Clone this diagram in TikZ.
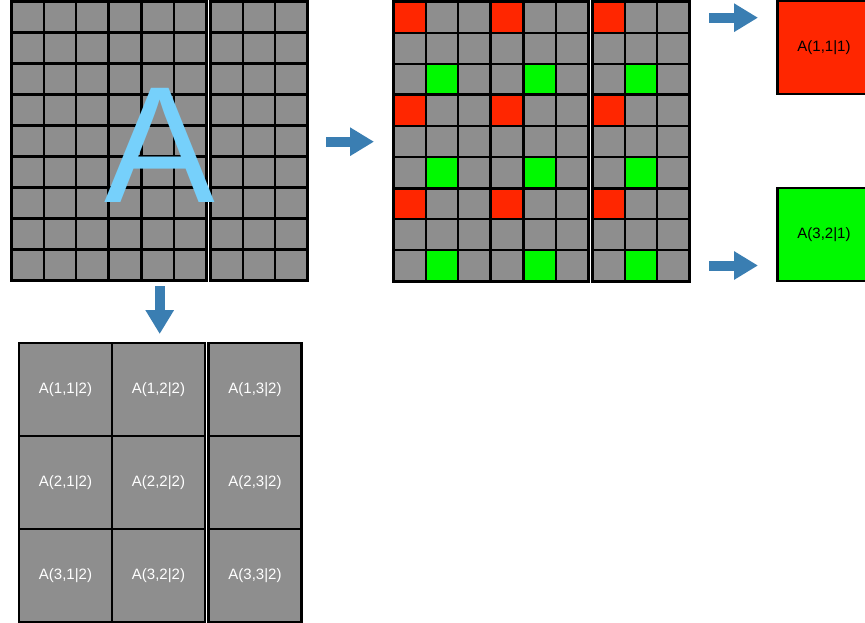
\documentclass[tikz,border=0pt]{standalone}
\usepackage{fontspec}
\setmainfont{Liberation Sans}
\usetikzlibrary{arrows.meta}
\definecolor{cellgray}{RGB}{142,142,142}
\definecolor{cellred}{RGB}{255,38,0}
\definecolor{cellgreen}{RGB}{0,249,0}
\definecolor{arrowblue}{RGB}{58,126,178}
\definecolor{letterblue}{RGB}{118,208,251}
\tikzset{
  cell/.style={draw=black, line width=2.2pt, fill=cellgray},
  block/.style={draw=black, line width=3pt},
  bigcell/.style={draw=black, line width=2.4pt, fill=cellgray, minimum width=93pt, minimum height=93pt, inner sep=0pt, text=white, font=\fontsize{15}{17}\selectfont},
  colorbox/.style={draw=black, line width=2.2pt, minimum width=93pt, minimum height=93pt, inner sep=0pt, font=\fontsize{15}{17}\selectfont},
  bigarrow/.style={draw=arrowblue, line width=10pt, -{Triangle[length=24pt,width=27pt]}}
}
\begin{document}
\begin{tikzpicture}[x=1pt,y=-1pt]
\useasboundingbox (0,0) rectangle (865,623);

% matrix A
\foreach \i in {0,...,8}
\foreach \j in {0,...,8}
{
    \pgfmathsetmacro\xx{11+32.6*\i+3.5*(\i>5)}
    \pgfmathsetmacro\yy{1.5+31*\j}
    \draw[cell] (\xx,\yy) rectangle ++(32.6,31);
}
\foreach \bi in {0,1,2}
\foreach \bj in {0,1,2}
{
    \pgfmathsetmacro\xx{11+97.8*\bi+3.5*(\bi>1)}
    \pgfmathsetmacro\yy{1.5+93*\bj}
    \draw[block] (\xx,\yy) rectangle ++(97.8,93);
}
\node[text=letterblue, font=\fontsize{166}{166}\selectfont, inner sep=0pt, anchor=base] (letterA) at (160,202) {A};

% sampled matrix
\foreach \i in {0,...,8}
\foreach \j in {0,...,8}
{
    \pgfmathsetmacro\xx{393+32.6*\i+3.5*(\i>5)}
    \pgfmathsetmacro\yy{2+31*\j}
    \draw[cell] (\xx,\yy) rectangle ++(32.6,31);
}
\foreach \bi in {0,1,2}
\foreach \bj in {0,1,2}
{
    \pgfmathsetmacro\xx{393+97.8*\bi+3.5*(\bi>1)}
    \pgfmathsetmacro\yy{2+93*\bj}
    \draw[cell, fill=cellred] (\xx,\yy) rectangle ++(32.6,31);
    \draw[cell, fill=cellgreen] (\xx+32.6,\yy+62) rectangle ++(32.6,31);
    \draw[block] (\xx,\yy) rectangle ++(97.8,93);
}

% blocks of level 1
\node[colorbox, fill=cellred] (r111) at (824,47.5) {A(1,1|1)};
\node[colorbox, fill=cellgreen] (g321) at (824,234.5) {A(3,2|1)};

% blocks of level 2
\foreach \i in {1,2,3}
\foreach \j in {1,2,3}
{
    \pgfmathsetmacro\xx{19+46.5+93*(\j-1)+3.5*(\j>2)}
    \pgfmathsetmacro\yy{343+46.5+93*(\i-1)}
    \node[bigcell] (a\i\j) at (\xx,\yy) {A(\i,\j|2)};
}

% arrows
\coordinate (midfrom) at (326,141.7);
\coordinate (midto) at (374,141.7);
\coordinate (redfrom) at (709,17.7);
\coordinate (redto) at (758,17.7);
\coordinate (greenfrom) at (709,265.5);
\coordinate (greento) at (758,265.5);
\coordinate (downfrom) at (159.7,286);
\coordinate (downto) at (159.7,334);
\draw[bigarrow] (midfrom) -- (midto);
\draw[bigarrow] (redfrom) -- (redto);
\draw[bigarrow] (greenfrom) -- (greento);
\draw[bigarrow] (downfrom) -- (downto);
\end{tikzpicture}
\end{document}
